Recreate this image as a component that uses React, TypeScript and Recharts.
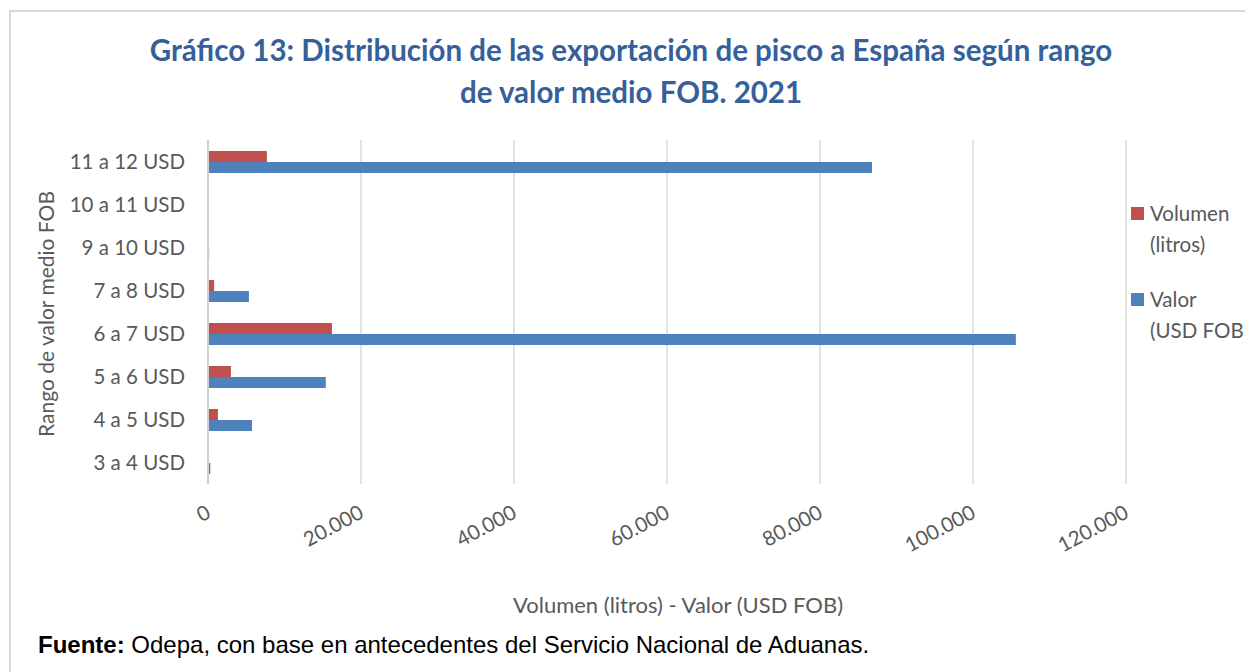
import { BarChart, Bar, XAxis, YAxis, CartesianGrid } from 'recharts';

// Rangos de valor medio FOB (orden ascendente, como en la planilla)
const ranges = [
  '3 a 4 USD',
  '4 a 5 USD',
  '5 a 6 USD',
  '6 a 7 USD',
  '7 a 8 USD',
  '9 a 10 USD',
  '10 a 11 USD',
  '11 a 12 USD',
];

// Volumen (litros)
const volumen = [30, 1300, 3000, 16200, 800, 30, 40, 7700];

// Valor (USD FOB)
const valor = [300, 5750, 15400, 105600, 5350, 150, 60, 86800];

const xTicks = [0, 20000, 40000, 60000, 80000, 100000, 120000];

const series = [
  { key: 'volumen', name: ['Volumen', '(litros)'], color: '#C0504D' },
  { key: 'valor', name: ['Valor', '(USD FOB'], color: '#4F81BD' },
];

const data = ranges.map((range, i) => ({
  range,
  volumen: volumen[i],
  valor: valor[i],
}));

const FONT = 'Lato, "Noto Sans", sans-serif';
const GREY = '#595959';

const formatThousands = (v: number) => String(v).replace(/\B(?=(\d{3})+(?!\d))/g, '.');

function XTick({ x, y, payload }: any) {
  const tx = x + 4;
  const ty = y + 33;
  return (
    <text
      x={tx}
      y={ty}
      transform={`rotate(-28, ${tx}, ${ty})`}
      textAnchor="end"
      fontSize={20.5}
      fill={GREY}
      fontFamily={FONT}
    >
      {formatThousands(payload.value)}
    </text>
  );
}

export default function App() {
  return (
    <div
      style={{
        position: 'absolute',
        left: 0,
        top: 0,
        width: 1245,
        height: 672,
        background: '#fff',
        overflow: 'hidden',
        fontFamily: FONT,
      }}
    >
      {/* marco del gráfico */}
      <div
        style={{
          position: 'absolute',
          left: 9,
          top: 10,
          width: 1245,
          height: 672,
          borderTop: '2px solid #d9d9d9',
          borderLeft: '2px solid #d9d9d9',
        }}
      />

      <div
        style={{
          position: 'absolute',
          left: 0,
          top: 29,
          width: 1262,
          textAlign: 'center',
          color: '#35609A',
          fontWeight: 700,
          fontSize: 29.5,
          lineHeight: '42px',
        }}
      >
        Gráfico 13: Distribución de las exportación de pisco a España según rango
        <br />
        de valor medio FOB. 2021
      </div>

      <div style={{ position: 'absolute', left: 0, top: 0 }}>
        <BarChart
          width={1245}
          height={672}
          data={data}
          layout="vertical"
          margin={{ top: 140, right: 119, left: 38, bottom: 128 }}
          barSize={11}
          barGap={0}
        >
          <CartesianGrid horizontal={false} stroke="#d9d9d9" strokeWidth={1.5} />
          <XAxis
            type="number"
            domain={[0, 120000]}
            ticks={xTicks}
            interval={0}
            axisLine={false}
            tickLine={false}
            tickSize={0}
            tickMargin={0}
            height={60}
            tick={<XTick />}
          />
          <YAxis
            type="category"
            dataKey="range"
            reversed
            width={170}
            interval={0}
            axisLine={{ stroke: '#d0d0d0', strokeWidth: 2 }}
            tickLine={false}
            tickSize={0}
            tickMargin={23}
            tick={{ fontSize: 20.5, fill: GREY, fontFamily: FONT }}
          />
          {series.map((s) => (
            <Bar
              key={s.key}
              dataKey={s.key}
              name={s.name.join(' ')}
              fill={s.color}
              isAnimationActive={false}
            />
          ))}
        </BarChart>
      </div>

      {/* título eje Y */}
      <div
        style={{
          position: 'absolute',
          left: 45,
          top: 314,
          transform: 'translate(-50%, -50%) rotate(-90deg)',
          whiteSpace: 'nowrap',
          fontSize: 21,
          color: GREY,
        }}
      >
        Rango de valor medio FOB
      </div>

      {/* título eje X */}
      <div
        style={{
          position: 'absolute',
          left: 678,
          top: 604,
          transform: 'translate(-50%, -50%)',
          whiteSpace: 'nowrap',
          fontSize: 22,
          color: GREY,
        }}
      >
        Volumen (litros) - Valor (USD FOB)
      </div>

      {/* leyenda */}
      <div style={{ position: 'absolute', left: 1131, top: 198 }}>
        {series.map((s, i) => (
          <div
            key={s.key}
            style={{
              position: 'relative',
              marginTop: i === 0 ? 0 : 24,
              paddingLeft: 19,
              fontSize: 20.5,
              lineHeight: '31px',
              color: GREY,
              whiteSpace: 'nowrap',
            }}
          >
            <span
              style={{
                position: 'absolute',
                left: 0,
                top: 9,
                width: 13,
                height: 13,
                background: s.color,
              }}
            />
            {s.name[0]}
            <br />
            {s.name[1]}
          </div>
        ))}
      </div>

      {/* fuente */}
      <div
        style={{
          position: 'absolute',
          left: 38,
          top: 631,
          fontFamily: '"Liberation Sans", Arial, sans-serif',
          fontSize: 24,
          color: '#000',
          whiteSpace: 'nowrap',
        }}
      >
        <b>Fuente:</b> Odepa, con base en antecedentes del Servicio Nacional de Aduanas.
      </div>
    </div>
  );
}
